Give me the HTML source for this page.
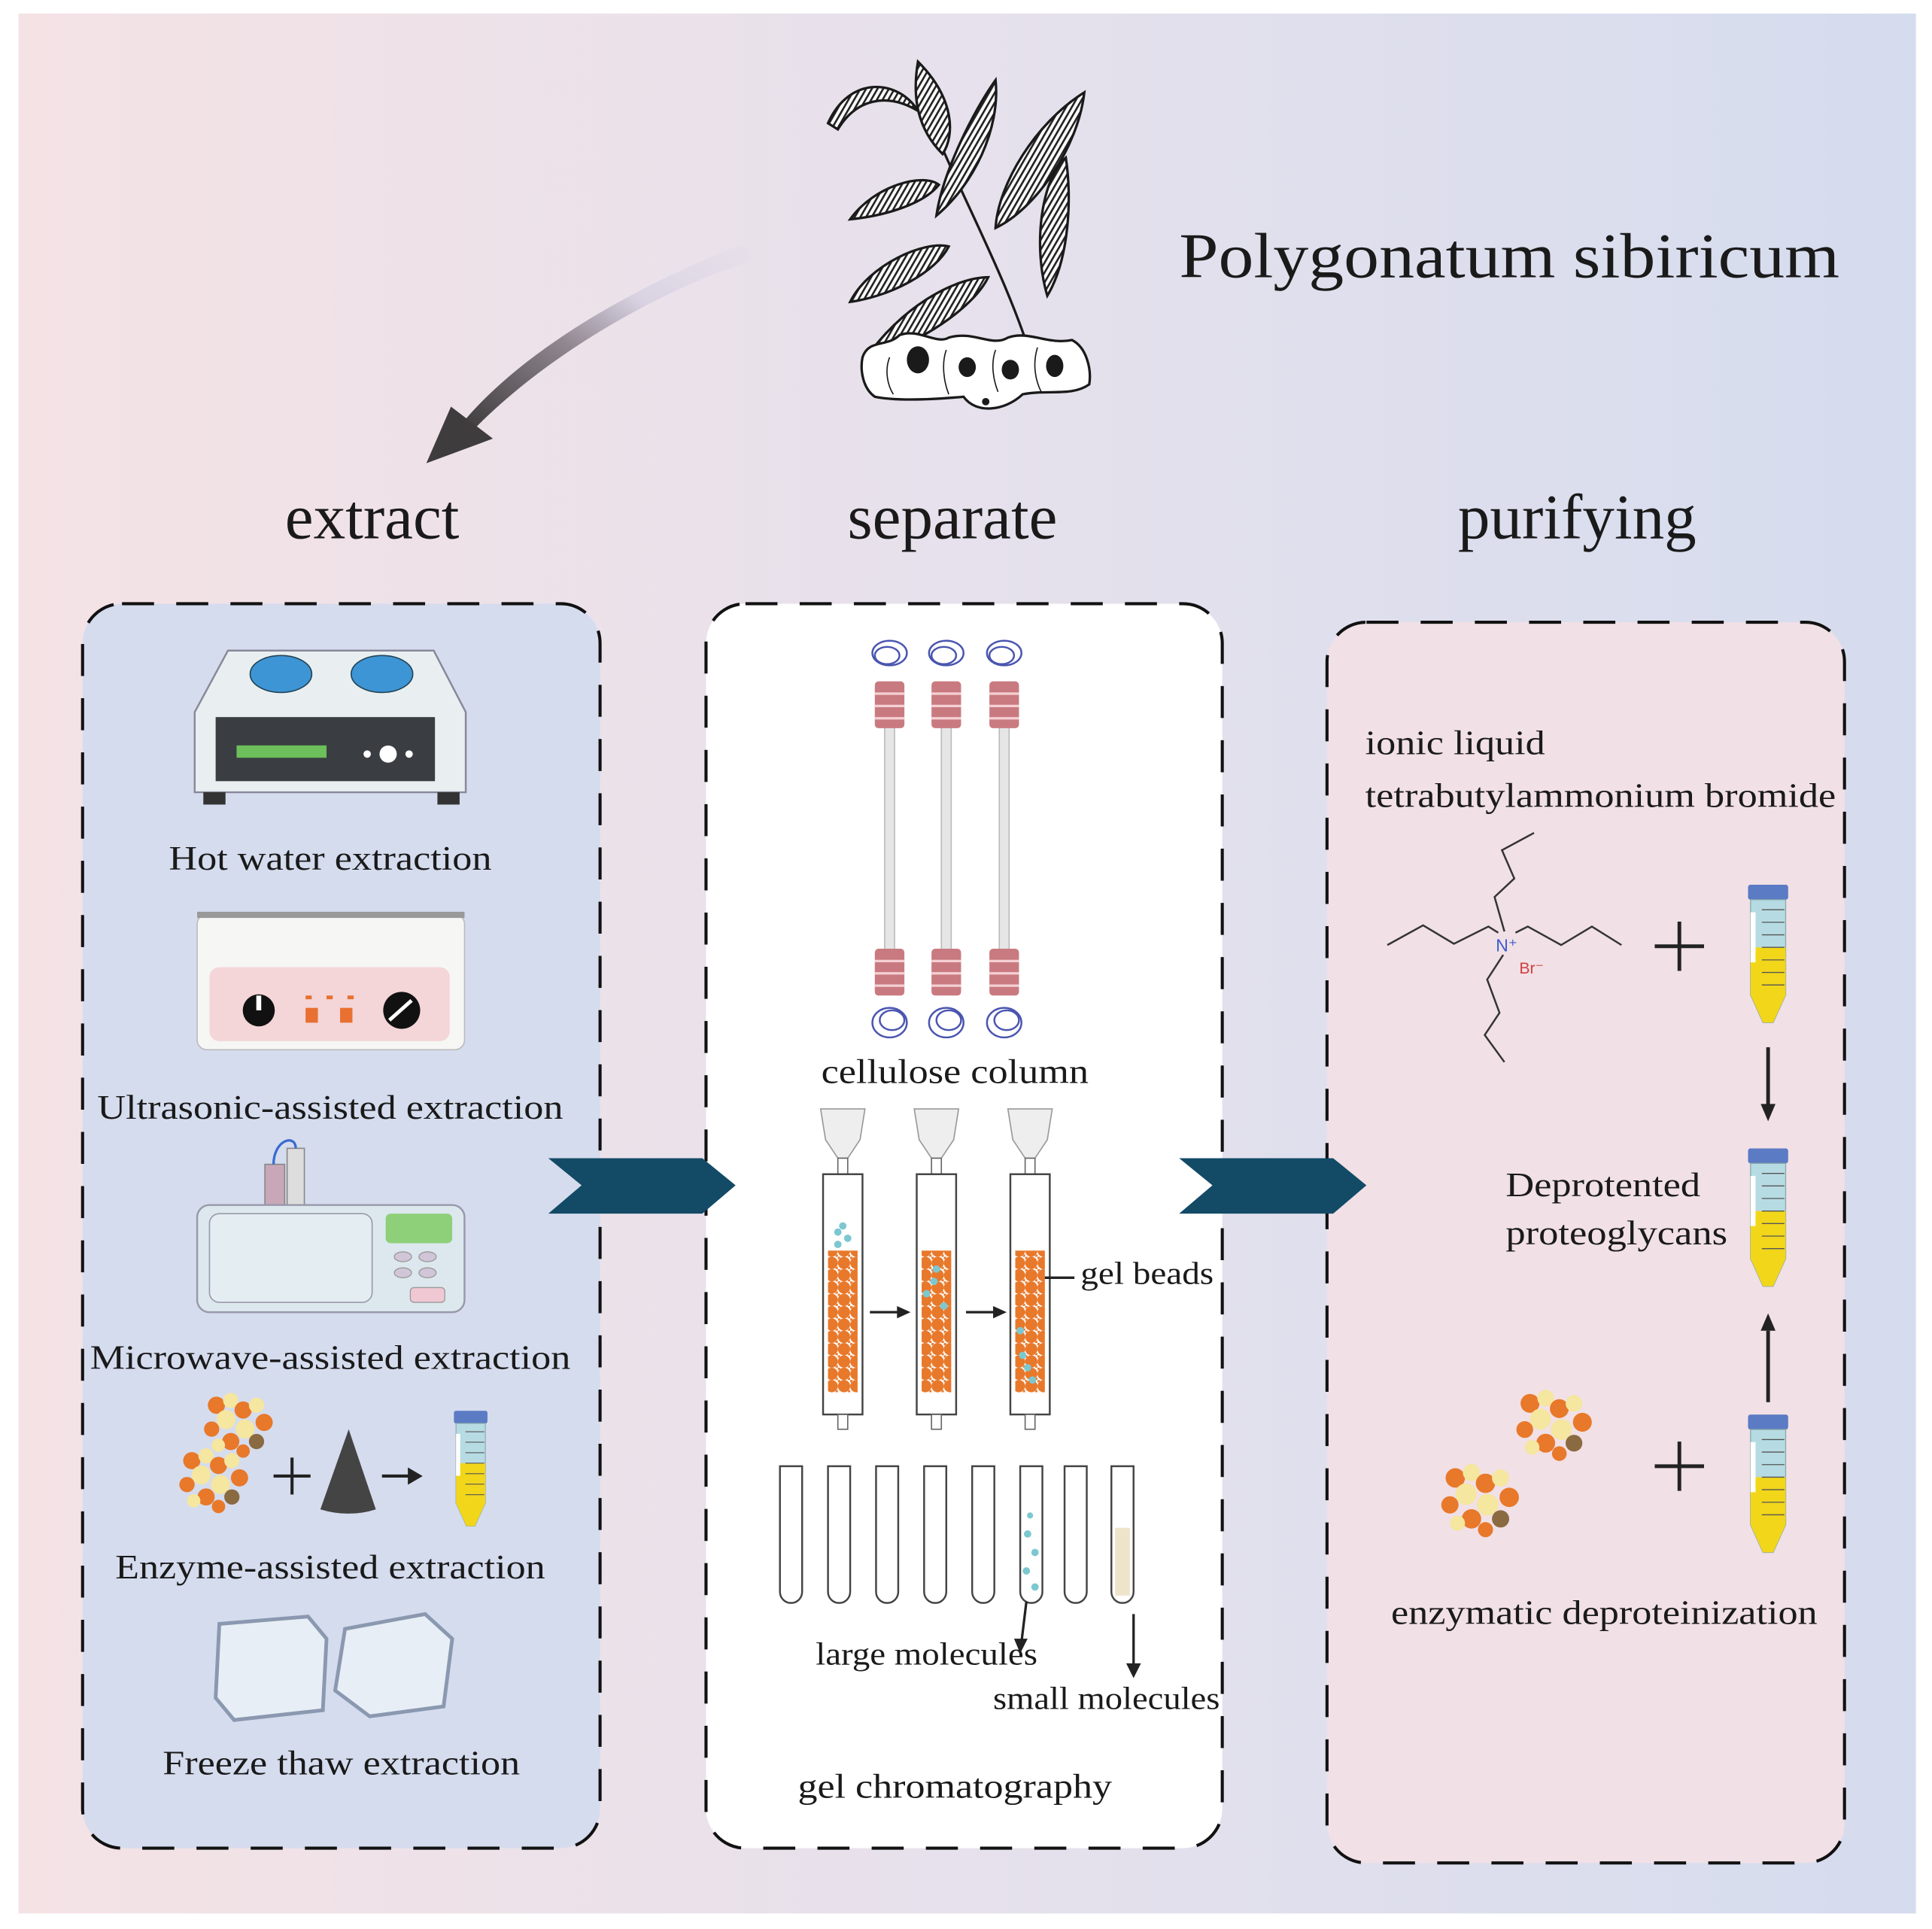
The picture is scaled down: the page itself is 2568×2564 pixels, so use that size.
<!DOCTYPE html>
<html><head><meta charset="utf-8"><style>
html,body{margin:0;padding:0;background:#fff}
svg{display:block}
text{font-family:"Liberation Serif",serif;fill:#1a1a1a}
</style></head><body>
<svg width="2568" height="2564" viewBox="0 0 1568 1565.6" xmlns="http://www.w3.org/2000/svg">
<defs>
<linearGradient id="bg" x1="0" x2="1" y1="0" y2="0">
<stop offset="0" stop-color="#f4e2e5"/><stop offset="0.5" stop-color="#e6e1ec"/><stop offset="1" stop-color="#d5dcee"/></linearGradient>
<linearGradient id="arr" x1="1" y1="0" x2="0" y2="1">
<stop offset="0" stop-color="#e0dbe8" stop-opacity="0.2"/><stop offset="0.35" stop-color="#d8d2e2"/><stop offset="0.6" stop-color="#908690"/><stop offset="1" stop-color="#3e3c3c"/></linearGradient>
<pattern id="stripe" width="4" height="4" patternUnits="userSpaceOnUse" patternTransform="rotate(30)">
<rect width="4" height="4" fill="#fff"/><rect width="1.6" height="4" fill="#222"/></pattern>
<pattern id="beads" width="10" height="10" patternUnits="userSpaceOnUse">
<rect width="10" height="10" fill="#fff"/><circle cx="5" cy="5" r="5" fill="#e8782a"/><circle cx="0" cy="0" r="2" fill="#e8782a"/><circle cx="10" cy="10" r="2" fill="#e8782a"/></pattern>
<symbol id="tube" viewBox="0 0 34 114">
<rect x="1" y="0" width="32" height="12" rx="2" fill="#5b7bc4"/>
<path d="M3 12 H31 V88 L21 110 H13 L3 88 Z" fill="#b7dbe3" stroke="#8aa" stroke-width="0.8"/>
<path d="M3 50 H31 V88 L21 110 H13 L3 88 Z" fill="#f2d61a"/>
<rect x="3" y="22" width="4" height="40" fill="#fff"/>
<g stroke="#555" stroke-width="0.8"><line x1="12" y1="20" x2="30" y2="20"/><line x1="12" y1="30" x2="30" y2="30"/><line x1="12" y1="40" x2="30" y2="40"/><line x1="12" y1="50" x2="30" y2="50"/><line x1="12" y1="60" x2="30" y2="60"/><line x1="12" y1="70" x2="30" y2="70"/><line x1="12" y1="80" x2="30" y2="80"/></g>
</symbol>
<symbol id="cluster" viewBox="0 0 90 80">
<g><circle cx="20" cy="20" r="9" fill="#e8782a"/><circle cx="35" cy="15" r="8" fill="#f5e6a0"/><circle cx="48" cy="25" r="9" fill="#e8782a"/><circle cx="30" cy="35" r="10" fill="#f5e6a0"/><circle cx="62" cy="20" r="8" fill="#f5e6a0"/><circle cx="70" cy="38" r="9" fill="#e8782a"/><circle cx="50" cy="45" r="10" fill="#f5e6a0"/><circle cx="15" cy="45" r="8" fill="#e8782a"/><circle cx="35" cy="58" r="9" fill="#e8782a"/><circle cx="62" cy="58" r="8" fill="#8a6a40"/><circle cx="22" cy="62" r="7" fill="#f5e6a0"/><circle cx="48" cy="68" r="7" fill="#e8782a"/></g>
</symbol>
<symbol id="col" viewBox="0 0 40 330">
<g fill="none" stroke="#4a55b0" stroke-width="1.5"><ellipse cx="20" cy="12" rx="14" ry="10"/><ellipse cx="18" cy="14" rx="10" ry="7"/><ellipse cx="20" cy="312" rx="14" ry="12"/><ellipse cx="22" cy="310" rx="10" ry="8"/></g>
<rect x="16" y="70" width="8" height="185" fill="#e6e6e6" stroke="#bbb"/>
<rect x="8" y="35" width="24" height="38" rx="3" fill="#c97a80"/><g stroke="#f4d0d4" stroke-width="2"><line x1="8" y1="45" x2="32" y2="45"/><line x1="8" y1="55" x2="32" y2="55"/><line x1="8" y1="65" x2="32" y2="65"/></g>
<rect x="8" y="252" width="24" height="38" rx="3" fill="#c97a80"/><g stroke="#f4d0d4" stroke-width="2"><line x1="8" y1="262" x2="32" y2="262"/><line x1="8" y1="272" x2="32" y2="272"/><line x1="8" y1="282" x2="32" y2="282"/></g>
</symbol>
</defs>
<rect width="1568" height="1566" fill="#fff"/>
<rect x="15" y="11" width="1540" height="1542" fill="url(#bg)"/>

<!-- curved arrow -->
<path d="M608 196 C520 230 430 280 378 340 L385 348 C440 292 525 240 608 212 Z" fill="url(#arr)"/>
<path d="M346 376 L366 330 L400 356 Z" fill="#3e3c3c"/>

<!-- plant -->
<g stroke="#1a1a1a" stroke-width="2">
<path d="M752 90 C780 160 820 230 840 300" fill="none"/>
<path d="M672 100 C690 60 730 65 745 90 C720 75 695 80 680 105 Z" fill="url(#stripe)"/>
<path d="M745 50 C775 80 775 110 765 125 C745 105 740 80 745 50 Z" fill="url(#stripe)"/>
<path d="M808 65 C790 90 765 140 760 175 C790 150 812 105 808 65 Z" fill="url(#stripe)"/>
<path d="M880 75 C840 100 810 150 808 185 C840 170 875 120 880 75 Z" fill="url(#stripe)"/>
<path d="M865 128 C845 145 838 200 850 240 C868 210 870 160 865 128 Z" fill="url(#stripe)"/>
<path d="M690 178 C710 150 750 140 762 150 C750 165 720 175 690 178 Z" fill="url(#stripe)"/>
<path d="M690 245 C705 215 750 195 770 200 C760 220 725 240 690 245 Z" fill="url(#stripe)"/>
<path d="M702 292 C730 250 775 225 802 225 C790 250 745 280 702 292 Z" fill="url(#stripe)"/>
<path d="M700 290 C705 275 720 282 730 272 C745 266 760 280 770 274 C790 268 805 282 818 274 C835 268 850 280 870 276 C882 282 886 300 884 312 C870 322 850 316 830 320 C815 334 792 336 782 322 C760 324 730 326 710 322 C700 315 698 300 700 290 Z" fill="#fff"/>
<g fill="none" stroke-width="1"><path d="M722 290 C718 300 720 312 725 320"/><path d="M768 284 C764 295 766 310 770 320"/><path d="M808 284 C804 295 806 308 810 318"/><path d="M842 282 C838 295 840 308 845 318"/></g>
</g>
<g fill="#1a1a1a"><ellipse cx="745" cy="292" rx="9" ry="11"/><ellipse cx="785" cy="298" rx="7" ry="8"/><ellipse cx="820" cy="300" rx="7" ry="8"/><ellipse cx="856" cy="297" rx="7" ry="9"/><circle cx="800" cy="326" r="3"/></g>

<text x="957" y="225" font-size="52" textLength="536" lengthAdjust="spacingAndGlyphs">Polygonatum sibiricum</text>
<text x="302" y="437" font-size="52" text-anchor="middle">extract</text>
<text x="773" y="437" font-size="52" text-anchor="middle">separate</text>
<text x="1280" y="437" font-size="52" text-anchor="middle">purifying</text>

<!-- boxes -->
<rect x="67" y="490" width="420" height="1010" rx="32" fill="#d5dcee" stroke="#111" stroke-width="2.5" stroke-dasharray="26 18"/>
<rect x="573" y="490" width="419" height="1010" rx="32" fill="#fff" stroke="#111" stroke-width="2.5" stroke-dasharray="26 18"/>
<rect x="1077" y="505" width="420" height="1007" rx="32" fill="#f1e0e6" stroke="#111" stroke-width="2.5" stroke-dasharray="26 18"/>

<!-- chevrons -->
<path d="M445 940 H570 L597 962 L570 985 H445 L472 962 Z" fill="#134a66"/>
<path d="M957 940 H1082 L1109 962 L1082 985 H957 L984 962 Z" fill="#134a66"/>

<!-- hot plate -->
<path d="M185 528 H352 L378 578 V643 H158 V578 Z" fill="#e9eff1" stroke="#889" stroke-width="1.5"/>
<ellipse cx="228" cy="547" rx="25" ry="15" fill="#3e95d6" stroke="#245" stroke-width="1"/>
<ellipse cx="310" cy="547" rx="25" ry="15" fill="#3e95d6" stroke="#245" stroke-width="1"/>
<rect x="175" y="582" width="178" height="52" fill="#3a3e42"/>
<rect x="192" y="605" width="73" height="10" fill="#6cbf5a"/>
<circle cx="315" cy="612" r="7" fill="#fff"/><circle cx="298" cy="612" r="3" fill="#fff"/><circle cx="332" cy="612" r="3" fill="#fff"/>
<rect x="165" y="643" width="18" height="10" fill="#333"/><rect x="355" y="643" width="18" height="10" fill="#333"/>
<text x="268" y="706" font-size="28" text-anchor="middle" textLength="262" lengthAdjust="spacingAndGlyphs">Hot water extraction</text>

<!-- ultrasonic -->
<rect x="160" y="742" width="217" height="110" rx="8" fill="#f6f6f4" stroke="#bbb"/>
<rect x="160" y="740" width="217" height="5" fill="#999"/>
<rect x="170" y="785" width="195" height="60" rx="8" fill="#f4d5d8"/>
<circle cx="210" cy="820" r="13" fill="#111"/><rect x="208" y="808" width="4" height="12" fill="#fff"/>
<circle cx="326" cy="820" r="15" fill="#111"/><line x1="316" y1="828" x2="334" y2="812" stroke="#fff" stroke-width="3"/>
<rect x="248" y="818" width="10" height="12" fill="#e87030"/><rect x="276" y="818" width="10" height="12" fill="#e87030"/>
<g fill="#e87030"><rect x="248" y="808" width="5" height="3"/><rect x="265" y="808" width="5" height="3"/><rect x="282" y="808" width="5" height="3"/></g>
<text x="268" y="908" font-size="28" text-anchor="middle" textLength="378" lengthAdjust="spacingAndGlyphs">Ultrasonic-assisted extraction</text>

<!-- microwave -->
<rect x="215" y="945" width="16" height="33" fill="#c8a8b8" stroke="#888"/><rect x="233" y="932" width="14" height="46" fill="#ddd" stroke="#888"/>
<path d="M222 945 C222 925 240 920 240 932" fill="none" stroke="#3a6ad0" stroke-width="2"/>
<rect x="160" y="978" width="217" height="87" rx="10" fill="#dde8ee" stroke="#99a" stroke-width="1.5"/>
<rect x="170" y="985" width="132" height="72" rx="8" fill="#e4eef2" stroke="#99a"/>
<rect x="313" y="985" width="54" height="24" rx="4" fill="#8ed07a"/>
<g fill="#d0c6d8" stroke="#999" stroke-width="0.8"><ellipse cx="327" cy="1020" rx="7" ry="4"/><ellipse cx="347" cy="1020" rx="7" ry="4"/><ellipse cx="327" cy="1033" rx="7" ry="4"/><ellipse cx="347" cy="1033" rx="7" ry="4"/><rect x="333" y="1045" width="28" height="12" rx="3" fill="#f0c8d4"/></g>
<text x="268" y="1111" font-size="28" text-anchor="middle" textLength="390" lengthAdjust="spacingAndGlyphs">Microwave-assisted extraction</text>

<!-- enzyme row -->
<use href="#cluster" x="160" y="1125" width="70" height="62"/>
<use href="#cluster" x="140" y="1170" width="70" height="62"/>
<g stroke="#222" stroke-width="2.5"><line x1="222" y1="1198" x2="252" y2="1198"/><line x1="237" y1="1183" x2="237" y2="1213"/></g>
<path d="M283 1160 L305 1225 Q283 1232 260 1225 Z" fill="#444"/>
<line x1="310" y1="1198" x2="333" y2="1198" stroke="#222" stroke-width="2.5"/><path d="M343 1198 L331 1191 V1205 Z" fill="#222"/>
<use href="#tube" x="366" y="1145" width="32" height="97"/>
<text x="268" y="1281" font-size="28" text-anchor="middle" textLength="349" lengthAdjust="spacingAndGlyphs">Enzyme-assisted extraction</text>

<!-- ice -->
<path d="M178 1318 L250 1312 L265 1330 L262 1388 L190 1396 L175 1378 Z" fill="#e8eef6" stroke="#8a98b0" stroke-width="3"/>
<path d="M280 1322 L345 1310 L367 1330 L360 1385 L300 1393 L272 1372 Z" fill="#e8eef6" stroke="#8a98b0" stroke-width="3"/>
<text x="277" y="1440" font-size="28" text-anchor="middle" textLength="290" lengthAdjust="spacingAndGlyphs">Freeze thaw extraction</text>

<!-- columns -->
<use href="#col" x="702" y="518" width="40" height="330"/>
<use href="#col" x="748" y="518" width="40" height="330"/>
<use href="#col" x="795" y="518" width="40" height="330"/>
<text x="775" y="879" font-size="28" text-anchor="middle" textLength="217" lengthAdjust="spacingAndGlyphs">cellulose column</text>

<!-- gel columns -->
<g>
<g id="gc">
<path d="M666 900 H702 L698 925 L688 940 H680 L670 925 Z" fill="#eee" stroke="#999"/>
<rect x="680" y="940" width="8" height="18" fill="#fff" stroke="#666"/>
<rect x="668" y="953" width="32" height="195" fill="#fff" stroke="#444" stroke-width="1.5"/>
<rect x="672" y="1015" width="24" height="115" fill="url(#beads)"/>
<rect x="680" y="1148" width="8" height="12" fill="#fff" stroke="#666"/>
</g>
<use href="#gc" x="76"/><use href="#gc" x="152"/>
<g fill="#7cc8d0"><circle cx="680" cy="1000" r="3"/><circle cx="688" cy="1005" r="3"/><circle cx="684" cy="995" r="3"/><circle cx="680" cy="1010" r="3"/><circle cx="760" cy="1030" r="3"/><circle cx="752" cy="1050" r="3"/><circle cx="766" cy="1060" r="3"/><circle cx="758" cy="1040" r="3"/><circle cx="830" cy="1100" r="3"/><circle cx="838" cy="1120" r="3"/><circle cx="828" cy="1080" r="3"/><circle cx="834" cy="1110" r="3"/></g>
<g stroke="#222" stroke-width="2"><line x1="706" y1="1065" x2="730" y2="1065"/><line x1="784" y1="1065" x2="808" y2="1065"/><line x1="848" y1="1037" x2="872" y2="1037"/></g>
<path d="M739 1065 L728 1060 V1070 Z M817 1065 L806 1060 V1070 Z" fill="#222"/>
<text x="877" y="1042" font-size="26" textLength="108" lengthAdjust="spacingAndGlyphs">gel beads</text>
</g>
<!-- test tubes -->
<g fill="#fff" stroke="#444" stroke-width="1.5">
<path d="M633 1190 H651 V1292 A9 9 0 0 1 633 1292 Z"/><path d="M672 1190 H690 V1292 A9 9 0 0 1 672 1292 Z"/><path d="M711 1190 H729 V1292 A9 9 0 0 1 711 1292 Z"/><path d="M750 1190 H768 V1292 A9 9 0 0 1 750 1292 Z"/><path d="M789 1190 H807 V1292 A9 9 0 0 1 789 1292 Z"/><path d="M828 1190 H846 V1292 A9 9 0 0 1 828 1292 Z"/><path d="M864 1190 H882 V1292 A9 9 0 0 1 864 1292 Z"/><path d="M902 1190 H920 V1292 A9 9 0 0 1 902 1292 Z"/>
</g>
<g fill="#7cc8d0"><circle cx="834" cy="1245" r="3"/><circle cx="840" cy="1260" r="3"/><circle cx="833" cy="1275" r="3"/><circle cx="840" cy="1288" r="3"/><circle cx="836" cy="1230" r="2.5"/></g>
<rect x="905" y="1240" width="12" height="55" fill="#eee4cc"/>
<g stroke="#222" stroke-width="2"><line x1="833" y1="1300" x2="829" y2="1333"/><line x1="920" y1="1310" x2="920" y2="1352"/></g>
<path d="M828 1342 L823 1330 H834 Z M920 1362 L914 1350 H926 Z" fill="#222"/>
<text x="752" y="1351" font-size="26" text-anchor="middle" textLength="180" lengthAdjust="spacingAndGlyphs">large molecules</text>
<text x="806" y="1387" font-size="26" textLength="184" lengthAdjust="spacingAndGlyphs">small molecules</text>
<text x="775" y="1459" font-size="28" text-anchor="middle" textLength="255" lengthAdjust="spacingAndGlyphs">gel chromatography</text>

<!-- right box -->
<text x="1108" y="612" font-size="28" textLength="146" lengthAdjust="spacingAndGlyphs">ionic liquid</text>
<text x="1108" y="655" font-size="28" textLength="382" lengthAdjust="spacingAndGlyphs">tetrabutylammonium bromide</text>
<g fill="none" stroke="#333" stroke-width="1.5">
<polyline points="1126,767 1155,751 1180,766 1208,752 1216,757"/>
<polyline points="1230,757 1240,752 1267,767 1292,752 1316,767"/>
<polyline points="1221,756 1213,728 1229,713 1219,690 1245,676"/>
<polyline points="1220,775 1207,795 1217,822 1205,840 1221,862"/>
</g>
<text x="1214" y="772" font-size="14" style="fill:#3a5ad0;font-family:'Liberation Sans',sans-serif">N⁺</text>
<text x="1233" y="790" font-size="13" style="fill:#d04040;font-family:'Liberation Sans',sans-serif">Br⁻</text>
<g stroke="#222" stroke-width="3"><line x1="1343" y1="768" x2="1383" y2="768"/><line x1="1363" y1="748" x2="1363" y2="788"/>
<line x1="1343" y1="1190" x2="1383" y2="1190"/><line x1="1363" y1="1170" x2="1363" y2="1210"/>
<line x1="1435" y1="850" x2="1435" y2="898"/><line x1="1435" y1="1138" x2="1435" y2="1080"/></g>
<path d="M1435 910 L1429 896 H1441 Z M1435 1066 L1429 1080 H1441 Z" fill="#222"/>
<use href="#tube" x="1417" y="718" width="36" height="116"/>
<use href="#tube" x="1417" y="932" width="36" height="116"/>
<use href="#tube" x="1417" y="1148" width="36" height="116"/>
<text x="1222" y="971" font-size="28" textLength="158" lengthAdjust="spacingAndGlyphs">Deprotented</text>
<text x="1222" y="1010" font-size="28" textLength="180" lengthAdjust="spacingAndGlyphs">proteoglycans</text>
<use href="#cluster" x="1222" y="1122" width="82" height="68"/>
<use href="#cluster" x="1160" y="1182" width="86" height="70"/>
<text x="1302" y="1318" font-size="28" text-anchor="middle" textLength="346" lengthAdjust="spacingAndGlyphs">enzymatic deproteinization</text>
</svg>
</body></html>
